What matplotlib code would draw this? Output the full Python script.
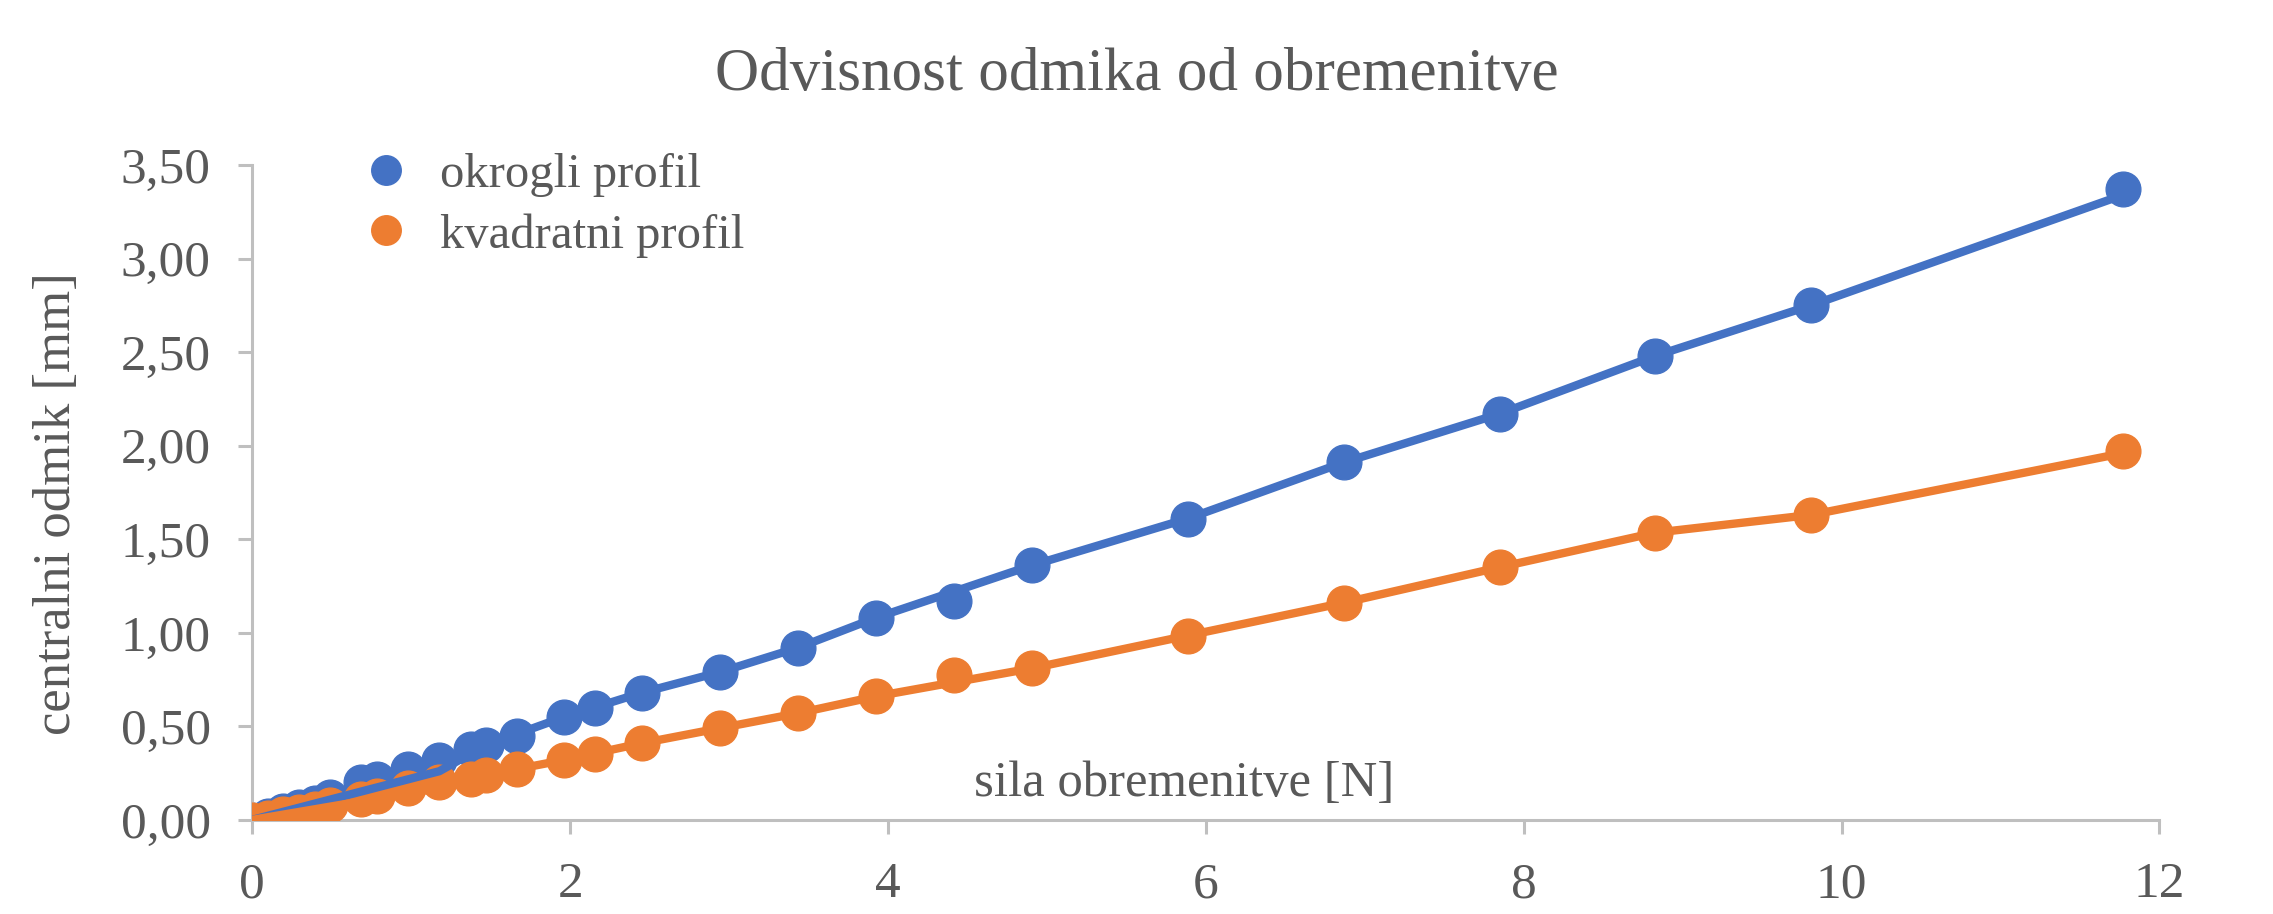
import matplotlib.pyplot as plt
from matplotlib.ticker import FuncFormatter

# measured points
sila = [0, 0.098, 0.196, 0.294, 0.392, 0.49, 0.687, 0.785, 0.981, 1.177, 1.373, 1.472,
        1.668, 1.962, 2.158, 2.453, 2.943, 3.434, 3.924, 4.415, 4.905, 5.886, 6.867,
        7.848, 8.829, 9.81, 11.772]
okrogli = [0, 0.02, 0.05, 0.07, 0.09, 0.12, 0.20, 0.22, 0.27, 0.32, 0.38, 0.40,
           0.45, 0.55, 0.60, 0.68, 0.79, 0.92, 1.08, 1.17, 1.36, 1.61, 1.91,
           2.17, 2.48, 2.75, 3.37]
kvadratni = [0, 0.01, 0.03, 0.04, 0.06, 0.08, 0.11, 0.13, 0.17, 0.20, 0.22, 0.24,
             0.27, 0.32, 0.35, 0.41, 0.49, 0.57, 0.66, 0.775, 0.81, 0.985, 1.16,
             1.35, 1.535, 1.63, 1.97]

# connecting lines (as drawn in the original)
line_x = [0, 1.177, 1.472, 1.962, 2.453, 2.943, 3.434, 3.924, 4.905, 5.886, 6.867,
          7.848, 8.829, 9.81, 11.772]
line_okrogli = [0, 0.26, 0.40, 0.55, 0.68, 0.79, 0.92, 1.08, 1.36, 1.61, 1.91,
                2.17, 2.48, 2.75, 3.34]
line_kvadratni = [0, 0.17, 0.24, 0.32, 0.41, 0.49, 0.57, 0.66, 0.81, 0.985, 1.16,
                  1.35, 1.535, 1.63, 1.96]

blue = '#4472C4'
orange = '#ED7D31'
grey_txt = '#595959'
grey_ax = '#BFBFBF'

plt.rcParams['font.family'] = ['Liberation Serif', 'DejaVu Serif']

fig = plt.figure(figsize=(22.73, 9.14), dpi=100)
ax = fig.add_axes([0.111, 0.103, 0.839, 0.7165])

ax.plot(sila, okrogli, 'o', color=blue, markersize=25, zorder=2, label='okrogli profil')
ax.plot(sila, kvadratni, 'o', color=orange, markersize=25, zorder=3, label='kvadratni profil')
ax.plot(line_x, line_okrogli, '-', color=blue, linewidth=6, zorder=4)
ax.plot(line_x, line_kvadratni, '-', color=orange, linewidth=6, zorder=4)

ax.set_xlim(0, 12)
ax.set_ylim(0, 3.5)
ax.set_xticks(range(0, 13, 2))
ax.set_yticks([0, 0.5, 1.0, 1.5, 2.0, 2.5, 3.0, 3.5])
ax.yaxis.set_major_formatter(FuncFormatter(lambda v, p: '{:.2f}'.format(v).replace('.', ',')))

for s in ['top', 'right']:
    ax.spines[s].set_visible(False)
for s in ['left', 'bottom']:
    ax.spines[s].set_color(grey_ax)
    ax.spines[s].set_linewidth(2.2)
    ax.spines[s].set_clip_on(False)
ax.tick_params(colors=grey_ax, labelcolor=grey_txt, labelsize=37, length=10, width=2.2, pad=20)

fig.text(0.5, 0.918, 'Odvisnost odmika od obremenitve', ha='center', va='center',
         fontsize=44, color=grey_txt)
fig.text(0.025, 0.449, 'centralni odmik [mm]', ha='center', va='center', rotation=90,
         fontsize=38, color=grey_txt)
fig.text(0.521, 0.143, 'sila obremenitve [N]', ha='center', va='center',
         fontsize=36.5, color=grey_txt)

ax.legend(loc='upper left', bbox_to_anchor=(0.14, 0.88), bbox_transform=fig.transFigure,
          frameon=False, fontsize=35, labelcolor=grey_txt, markerscale=0.85,
          handlelength=1.0, handletextpad=0.6, labelspacing=0.32)

plt.savefig('out.png')
plt.close()
